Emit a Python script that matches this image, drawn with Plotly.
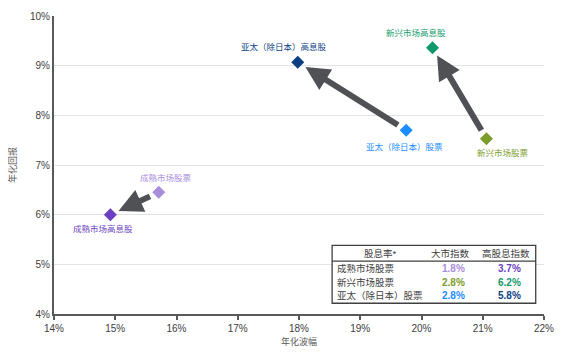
import plotly.graph_objects as go

# ---- data ----
names = ["成熟市场股票", "成熟市场高息股", "亚太（除日本）股票", "亚太（除日本）高息股", "新兴市场股票", "新兴市场高息股"]
volatility = [15.71, 14.92, 19.75, 17.98, 21.06, 20.18]   # 年化波幅 %
returns = [6.45, 6.00, 7.70, 9.07, 7.53, 9.36]            # 年化回报 %
colors = ["#a88ddb", "#6a3fc0", "#1a8dff", "#0b3f82", "#7b9b2b", "#0f9a68"]
# arrows: (from index, to index)
arrow_pairs = [(0, 1), (2, 3), (4, 5)]

x_ticks = [14, 15, 16, 17, 18, 19, 20, 21, 22]
y_ticks = [4, 5, 6, 7, 8, 9, 10]

table_header = ["股息率*", "大市指数", "高股息指数"]
table_rows = ["成熟市场股票", "新兴市场股票", "亚太（除日本）股票"]
table_broad = ["1.8%", "2.8%", "2.8%"]
table_high = ["3.7%", "6.2%", "5.8%"]
table_broad_colors = ["#a88ddb", "#7b9b2b", "#1a8dff"]
table_high_colors = ["#6a3fc0", "#0f9a68", "#0b3f82"]

# label offsets (px) for each point label
label_shift = [(7, 14), (-7, -14), (-2, -17), (-14, 15), (17, -14), (-17, 15)]

FONT = "Liberation Sans, Arial, Noto Sans CJK SC, sans-serif"

fig = go.Figure()
fig.add_trace(go.Scatter(
    x=volatility, y=returns, mode="markers",
    marker=dict(symbol="diamond", size=10, color=colors),
    hoverinfo="skip", showlegend=False,
))

annotations = []
for (a, b) in arrow_pairs:
    annotations.append(dict(
        x=volatility[b], y=returns[b], xref="x", yref="y",
        ax=volatility[a], ay=returns[a], axref="x", ayref="y",
        text="", showarrow=True, arrowhead=2, arrowsize=0.8, arrowwidth=6,
        arrowcolor="#4f5154", standoff=9, startstandoff=8,
    ))

for i, n in enumerate(names):
    dx, dy = label_shift[i]
    annotations.append(dict(
        x=volatility[i], y=returns[i], xref="x", yref="y", text=n,
        showarrow=False, xshift=dx, yshift=dy, xanchor="center", yanchor="middle",
        font=dict(size=8.5, color=colors[i], family=FONT),
    ))

# ---- table (paper coords) ----
tx0, tx1 = 0.5676, 0.9831
ty0, ty1 = 0.036, 0.2301
hline = 0.1777
shapes = [
    dict(type="rect", xref="paper", yref="paper", x0=tx0, x1=tx1, y0=ty0, y1=ty1,
         line=dict(color="#404040", width=1.3), fillcolor="white", layer="above"),
    dict(type="line", xref="paper", yref="paper", x0=tx0, x1=tx1, y0=hline, y1=hline,
         line=dict(color="#404040", width=1.3), layer="above"),
]
header_x = [0.667, 0.810, 0.923]
for hx, h in zip(header_x, table_header):
    annotations.append(dict(x=hx, y=0.2046, xref="paper", yref="paper", text=h,
                            xanchor="center", yanchor="middle",
                            showarrow=False, font=dict(size=9.5, color="#404040", family=FONT)))
row_y = [0.1529, 0.107, 0.0612]
for ry, rn, b, h, bc, hc in zip(row_y, table_rows, table_broad, table_high,
                                 table_broad_colors, table_high_colors):
    annotations.append(dict(x=0.5743, y=ry, xref="paper", yref="paper", text=rn,
                            xanchor="left", yanchor="middle", showarrow=False,
                            font=dict(size=9.5, color="#404040", family=FONT)))
    annotations.append(dict(x=0.8153, y=ry, xref="paper", yref="paper", text="<b>" + b + "</b>",
                            xanchor="center", yanchor="middle",
                            showarrow=False, font=dict(size=10, color=bc, family=FONT)))
    annotations.append(dict(x=0.9287, y=ry, xref="paper", yref="paper", text="<b>" + h + "</b>",
                            xanchor="center", yanchor="middle",
                            showarrow=False, font=dict(size=10, color=hc, family=FONT)))

fig.update_layout(
    width=564, height=356,
    margin=dict(l=54, r=19, t=10, b=41),
    plot_bgcolor="white", paper_bgcolor="white",
    font=dict(family=FONT, size=10, color="#404040"),
    xaxis=dict(
        range=[14, 22], tickvals=x_ticks, ticktext=[f"{v}%" for v in x_ticks],
        showgrid=False, zeroline=False,
        showline=True, linecolor="#595959", linewidth=2,
        ticks="outside", ticklen=4, tickcolor="#595959", tickwidth=1.5,
        tickfont=dict(size=10, color="#404040"),
        title=dict(text="年化波幅", font=dict(size=9, color="#595959"), standoff=6),
    ),
    yaxis=dict(
        range=[4, 10], tickvals=y_ticks, ticktext=[f"{v}%" for v in y_ticks],
        showgrid=True, gridcolor="#e3e3e3", gridwidth=1.2, zeroline=False,
        showline=True, linecolor="#595959", linewidth=2,
        ticks="", tickfont=dict(size=10, color="#404040"),
        title=dict(text="年化回报", font=dict(size=9, color="#595959"), standoff=12),
    ),
    shapes=shapes,
    annotations=annotations,
)

fig.write_html("out.html", config={"displayModeBar": False},
               post_script="document.body.style.margin='0';")
